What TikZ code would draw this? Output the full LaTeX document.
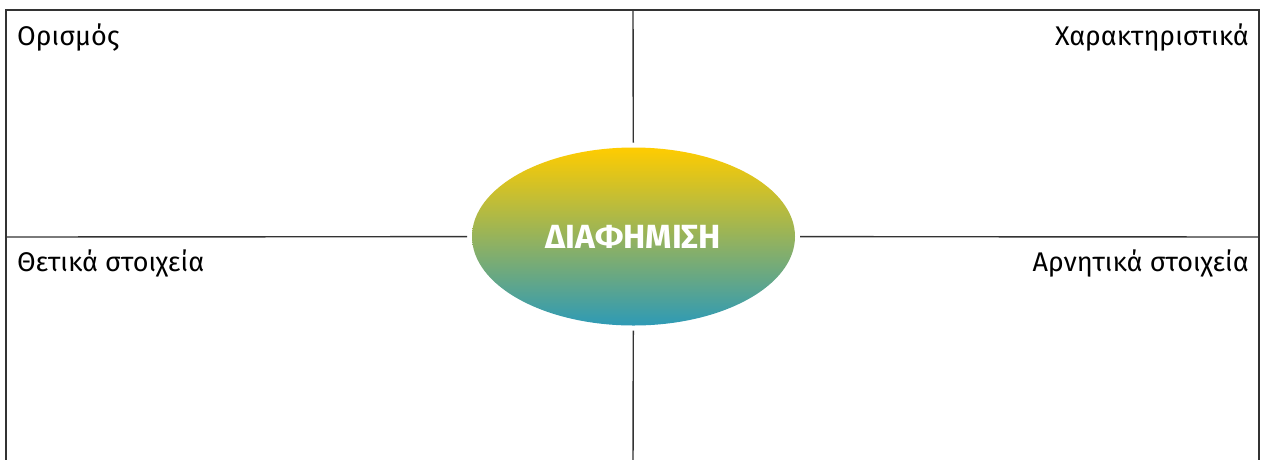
\documentclass[tikz,border=0pt]{standalone}
\usepackage{fontspec}
\setmainfont{Fira Sans}
\usetikzlibrary{shapes.geometric}
\definecolor{topy}{HTML}{FFCC00}
\definecolor{midc}{HTML}{9DAE84}
\definecolor{bott}{HTML}{2E9AB6}
\definecolor{linec}{HTML}{333333}
\tikzset{
  frameline/.style={draw=linec, line width=1.4pt},
  label/.style={font=\fontsize{27}{30}\selectfont, inner sep=0pt},
  centre/.style={ellipse, minimum width=323pt, minimum height=178pt, top color=topy, middle color=midc, bottom color=bott, draw=none, outer sep=5pt, text=white, font=\fontsize{33.5}{36}\selectfont\bfseries}
}
\begin{document}
\begin{tikzpicture}[x=1pt,y=-1pt]
\useasboundingbox (0,0) rectangle (1261,459);
\fill[white] (0,0) rectangle (1261,459);
\coordinate (tl) at (6,10);
\coordinate (tr) at (1259,10);
\coordinate (bl) at (6,470);
\coordinate (br) at (1259,470);
\coordinate (top) at (633,10);
\coordinate (bot) at (633,470);
\coordinate (lft) at (6,237);
\coordinate (rgt) at (1259,237);
\draw[frameline] (bl) -- (tl) -- (tr) -- (br);
\node[centre] (c) at (633.5,236.5) {ΔΙΑΦΗΜΙΣΗ};
\draw[frameline] (c) -- (top);
\draw[frameline] (c) -- (bot);
\draw[frameline] (c) -- (lft);
\draw[frameline] (c) -- (rgt);
\node[label, anchor=base west] (a) at (17,45) {Ορισμός};
\node[label, anchor=base east] (b) at (1249,45) {Χαρακτηριστικά};
\node[label, anchor=base west] (d) at (17,271) {Θετικά στοιχεία};
\node[label, anchor=base east] (e) at (1249,271) {Αρνητικά στοιχεία};
\end{tikzpicture}
\end{document}
